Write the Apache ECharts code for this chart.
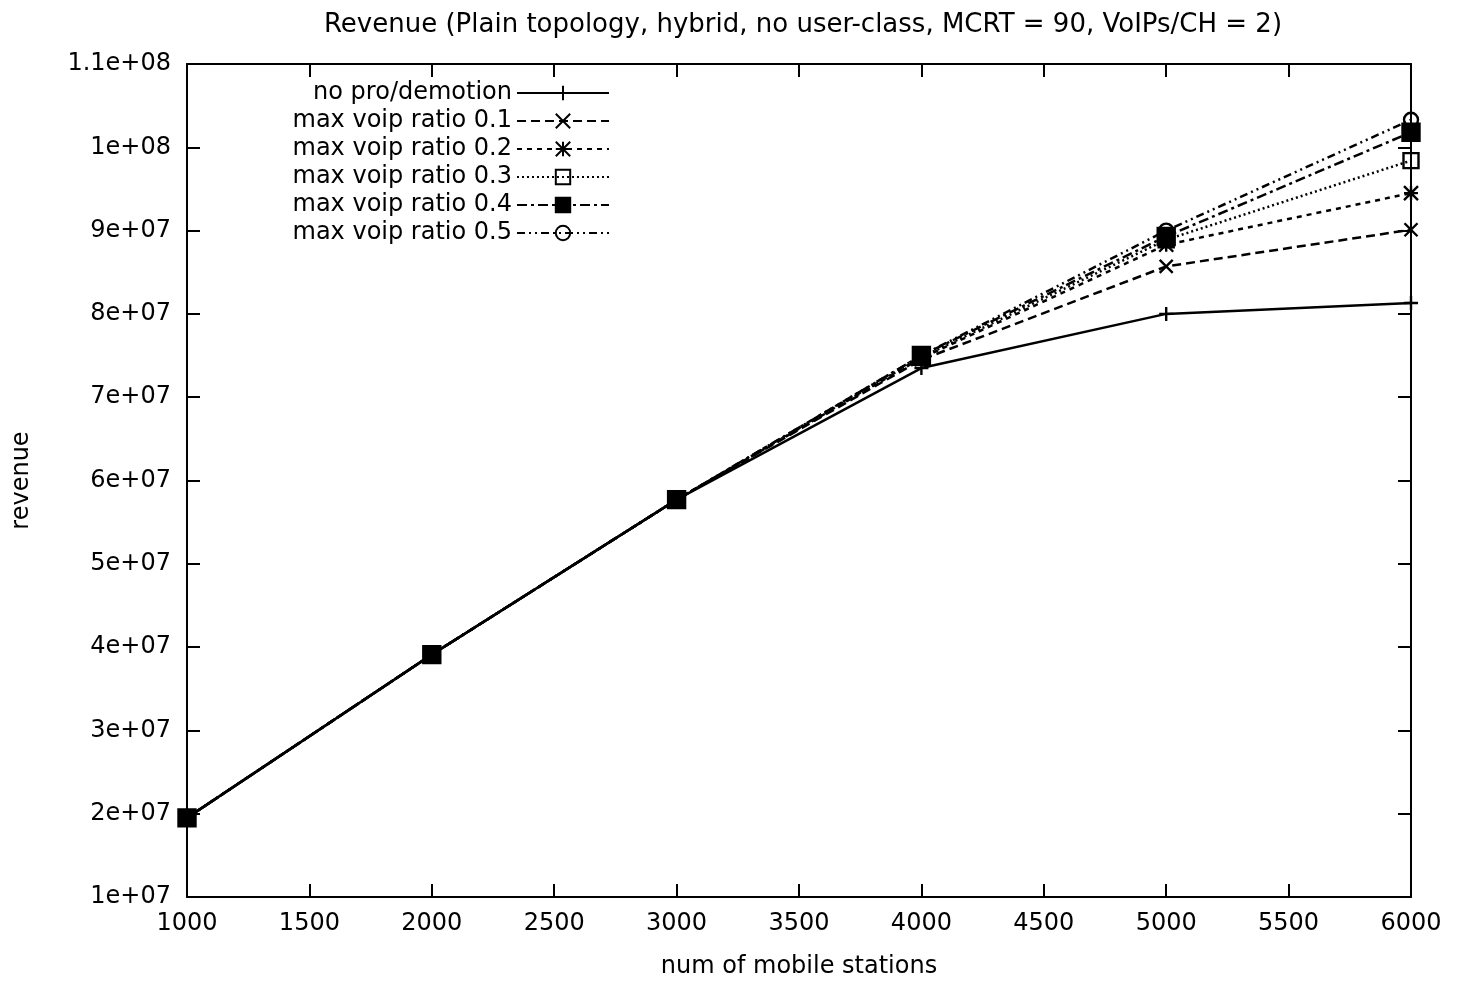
<!DOCTYPE html>
<html>
<head>
<meta charset="utf-8">
<script src="https://cdn.jsdelivr.net/npm/echarts@6/dist/echarts.min.js"></script>
<style>html,body{margin:0;padding:0;background:#fff}#c{width:1460px;height:988px}</style>
</head>
<body>
<div id="c"></div>
<script>
const titleText = 'Revenue (Plain topology, hybrid, no user-class, MCRT = 90, VoIPs/CH = 2)';
const xName = 'num of mobile stations';
const yName = 'revenue';
const mobileStations = [1000, 2000, 3000, 4000, 5000, 6000];
const seriesNames = ['no pro/demotion', 'max voip ratio 0.1', 'max voip ratio 0.2', 'max voip ratio 0.3', 'max voip ratio 0.4', 'max voip ratio 0.5'];
const noProDemotion = [1.95e7, 3.91e7, 5.77e7, 7.35e7, 8.00e7, 8.13e7];
const ratio01 = [1.95e7, 3.91e7, 5.77e7, 7.45e7, 8.57e7, 9.01e7];
const ratio02 = [1.95e7, 3.91e7, 5.77e7, 7.47e7, 8.83e7, 9.45e7];
const ratio03 = [1.95e7, 3.91e7, 5.77e7, 7.48e7, 8.89e7, 9.84e7];
const ratio04 = [1.95e7, 3.91e7, 5.77e7, 7.50e7, 8.93e7, 1.018e8];
const ratio05 = [1.95e7, 3.91e7, 5.77e7, 7.50e7, 9.00e7, 1.033e8];
const allValues = [noProDemotion, ratio01, ratio02, ratio03, ratio04, ratio05];

const FONT = 'DejaVu Sans';
const styles = [
  {dash: 'solid', symbol: 'path://M0,5L10,5M5,0L5,10', size: 14, fill: 'transparent'},
  {dash: [9, 5], symbol: 'path://M0,0L10,10M10,0L0,10', size: 13, fill: 'transparent'},
  {dash: [5, 5], symbol: 'path://M0,0L10,10M10,0L0,10M0,5L10,5M5,0L5,10', size: 14, fill: 'transparent'},
  {dash: [2, 3], symbol: 'rect', size: 15, fill: 'transparent'},
  {dash: [10, 4, 3, 4], symbol: 'rect', size: 17, fill: '#000'},
  {dash: [8, 4, 2, 4, 2, 4], symbol: 'circle', size: 14, fill: 'transparent'}
];

function fmtY(v) {
  if (v === 0) return '0';
  const e = Math.floor(Math.log10(v) + 1e-9);
  const m = Math.round(v / Math.pow(10, e) * 10) / 10;
  return m + 'e+' + (e < 10 ? '0' + e : e);
}

const series = seriesNames.map((name, i) => ({
  name: name,
  type: 'line',
  xAxisIndex: 0, yAxisIndex: 0,
  data: mobileStations.map((x, j) => [x, allValues[i][j]]),
  symbol: styles[i].symbol,
  symbolSize: styles[i].size,
  showAllSymbol: true,
  lineStyle: {color: '#000', width: 2.5, type: styles[i].dash},
  itemStyle: {color: styles[i].fill, borderColor: '#000', borderWidth: 2.4},
  emphasis: {disabled: true},
  animation: false,
  z: 2 + i
}));

const rowY = [90, 118, 146, 174, 202, 230];
const legends = seriesNames.map((name, i) => ({
  data: [name],
  right: 850,
  top: rowY[i] - 9,
  orient: 'vertical',
  align: 'right',
  padding: 0,
  itemWidth: 92,
  itemHeight: 18,
  selectedMode: false,
  textStyle: {fontFamily: FONT, fontSize: 24, color: '#000'}
}));

const axisCommon = {
  type: 'value',
  axisLine: {show: true, lineStyle: {color: '#000', width: 2}},
  axisTick: {show: true, inside: true, length: 13, lineStyle: {color: '#000', width: 2}},
  splitLine: {show: false}
};

const chart = echarts.init(document.getElementById('c'), null, {renderer: 'canvas'});
chart.setOption({
  backgroundColor: '#fff',
  animation: false,
  title: {
    text: titleText, left: 798, top: 7, textAlign: 'center',
    textStyle: {fontFamily: FONT, fontSize: 26, fontWeight: 'normal', color: '#000'}
  },
  legend: legends,
  grid: {left: 187, right: 49, top: 64, bottom: 91, containLabel: false},
  xAxis: [
    Object.assign({}, axisCommon, {
      position: 'bottom', min: 1000, max: 6000, interval: 500,
      name: xName, nameLocation: 'middle', nameGap: 58,
      nameTextStyle: {fontFamily: FONT, fontSize: 24, color: '#000'},
      axisLabel: {fontFamily: FONT, fontSize: 24, color: '#000', margin: 15, formatter: v => String(v)}
    }),
    Object.assign({}, axisCommon, {
      position: 'top', min: 1000, max: 6000, interval: 500,
      axisLabel: {show: false}
    })
  ],
  yAxis: [
    Object.assign({}, axisCommon, {
      position: 'left', min: 1e7, max: 1.1e8, interval: 1e7,
      name: yName, nameLocation: 'middle', nameRotate: 90, nameGap: 153,
      nameTextStyle: {fontFamily: FONT, fontSize: 24, color: '#000'},
      axisLabel: {fontFamily: FONT, fontSize: 24, color: '#000', margin: 16, formatter: fmtY}
    }),
    Object.assign({}, axisCommon, {
      position: 'right', min: 1e7, max: 1.1e8, interval: 1e7,
      axisLabel: {show: false}
    })
  ],
  series: series
});
</script>
</body>
</html>
